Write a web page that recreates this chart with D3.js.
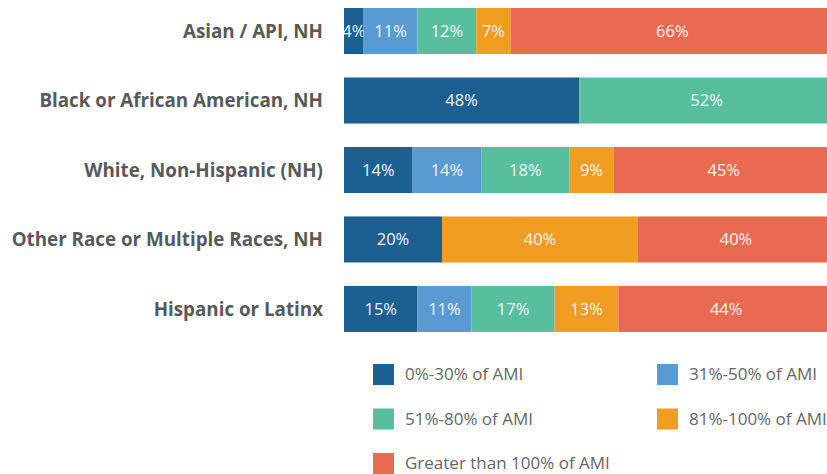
<!DOCTYPE html>
<html>
<head>
<meta charset="utf-8">
<script src="https://cdn.jsdelivr.net/npm/d3@7"></script>
<style>
  body { margin: 0; background: #fff; }
  text { font-family: "Open Sans", sans-serif; }
</style>
</head>
<body>
<div class="chart"></div>
<script>
// income groups (stack order) and colours
var groups = ["0%-30% of AMI", "31%-50% of AMI", "51%-80% of AMI", "81%-100% of AMI", "Greater than 100% of AMI"];
var colors = ["#1b6091", "#5a9ad2", "#57bfa0", "#f19d21", "#ea6a51"];

// race / ethnicity categories
var categories = ["Asian / API, NH", "Black or African American, NH", "White, Non-Hispanic (NH)",
                  "Other Race or Multiple Races, NH", "Hispanic or Latinx"];

// percent in each group, one array per group, same order as categories
var ami0to30   = [4, 48, 14, 20, 15];
var ami31to50  = [11, 0, 14, 0, 11];
var ami51to80  = [12, 52, 18, 0, 17];
var ami81to100 = [7, 0, 9, 40, 13];
var amiOver100 = [66, 0, 45, 40, 44];

var series = [ami0to30, ami31to50, ami51to80, ami81to100, amiOver100];

var width = 827, height = 474;

var svg = d3.select(".chart")
            .append("svg")
            .attr("width", width)
            .attr("height", height);

var rows = categories.map(function(c, i) {
  var row = {category: c};
  groups.forEach(function(g, j) { row[g] = series[j][i]; });
  return row;
});

var stacked = d3.stack().keys(groups)(rows);

var x = d3.scaleLinear().domain([0, 100]).range([344, 834]);
var y = d3.scaleBand().domain(categories).range([8, 332]).paddingInner(0.337);
var color = d3.scaleOrdinal().domain(groups).range(colors);

// category labels
svg.append("g")
   .selectAll("text")
   .data(categories)
   .enter()
   .append("text")
   .attr("x", 323)
   .attr("y", function(d) { return y(d) + y.bandwidth() / 2; })
   .attr("dy", "0.35em")
   .attr("text-anchor", "end")
   .style("font-size", "18.8px")
   .style("font-weight", "bold")
   .style("fill", "#58595b")
   .text(function(d) { return d; });

// stacked segments
var layer = svg.append("g")
   .selectAll("g")
   .data(stacked)
   .enter()
   .append("g")
   .attr("fill", function(d) { return color(d.key); });

layer.selectAll("rect")
   .data(function(d) { return d.filter(function(p) { return p[1] - p[0] > 0; }); })
   .enter()
   .append("rect")
   .attr("x", function(d) { return x(d[0]); })
   .attr("y", function(d) { return y(d.data.category); })
   .attr("width", function(d) { return x(d[1]) - x(d[0]); })
   .attr("height", y.bandwidth());

layer.selectAll("text")
   .data(function(d) { return d.filter(function(p) { return p[1] - p[0] > 0; }); })
   .enter()
   .append("text")
   .attr("x", function(d) { return (x(d[0]) + x(d[1])) / 2; })
   .attr("y", function(d) { return y(d.data.category) + y.bandwidth() / 2; })
   .attr("dy", "0.35em")
   .attr("text-anchor", "middle")
   .style("font-size", "16.5px")
   .style("fill", "#f4f4f4")
   .text(function(d) { return (d[1] - d[0]) + "%"; });

// legend, two columns
var legend = svg.append("g")
   .selectAll("g")
   .data(groups)
   .enter()
   .append("g")
   .attr("transform", function(d, i) {
      return "translate(" + (i % 2 ? 657 : 373) + "," + (364 + Math.floor(i / 2) * 44.5) + ")";
   });

legend.append("rect")
   .attr("width", 21)
   .attr("height", 21)
   .attr("fill", function(d) { return color(d); });

legend.append("text")
   .attr("x", 32)
   .attr("y", 10.5)
   .attr("dy", "0.35em")
   .style("font-size", "17px")
   .style("fill", "#666")
   .text(function(d) { return d; });
</script>
</body>
</html>
